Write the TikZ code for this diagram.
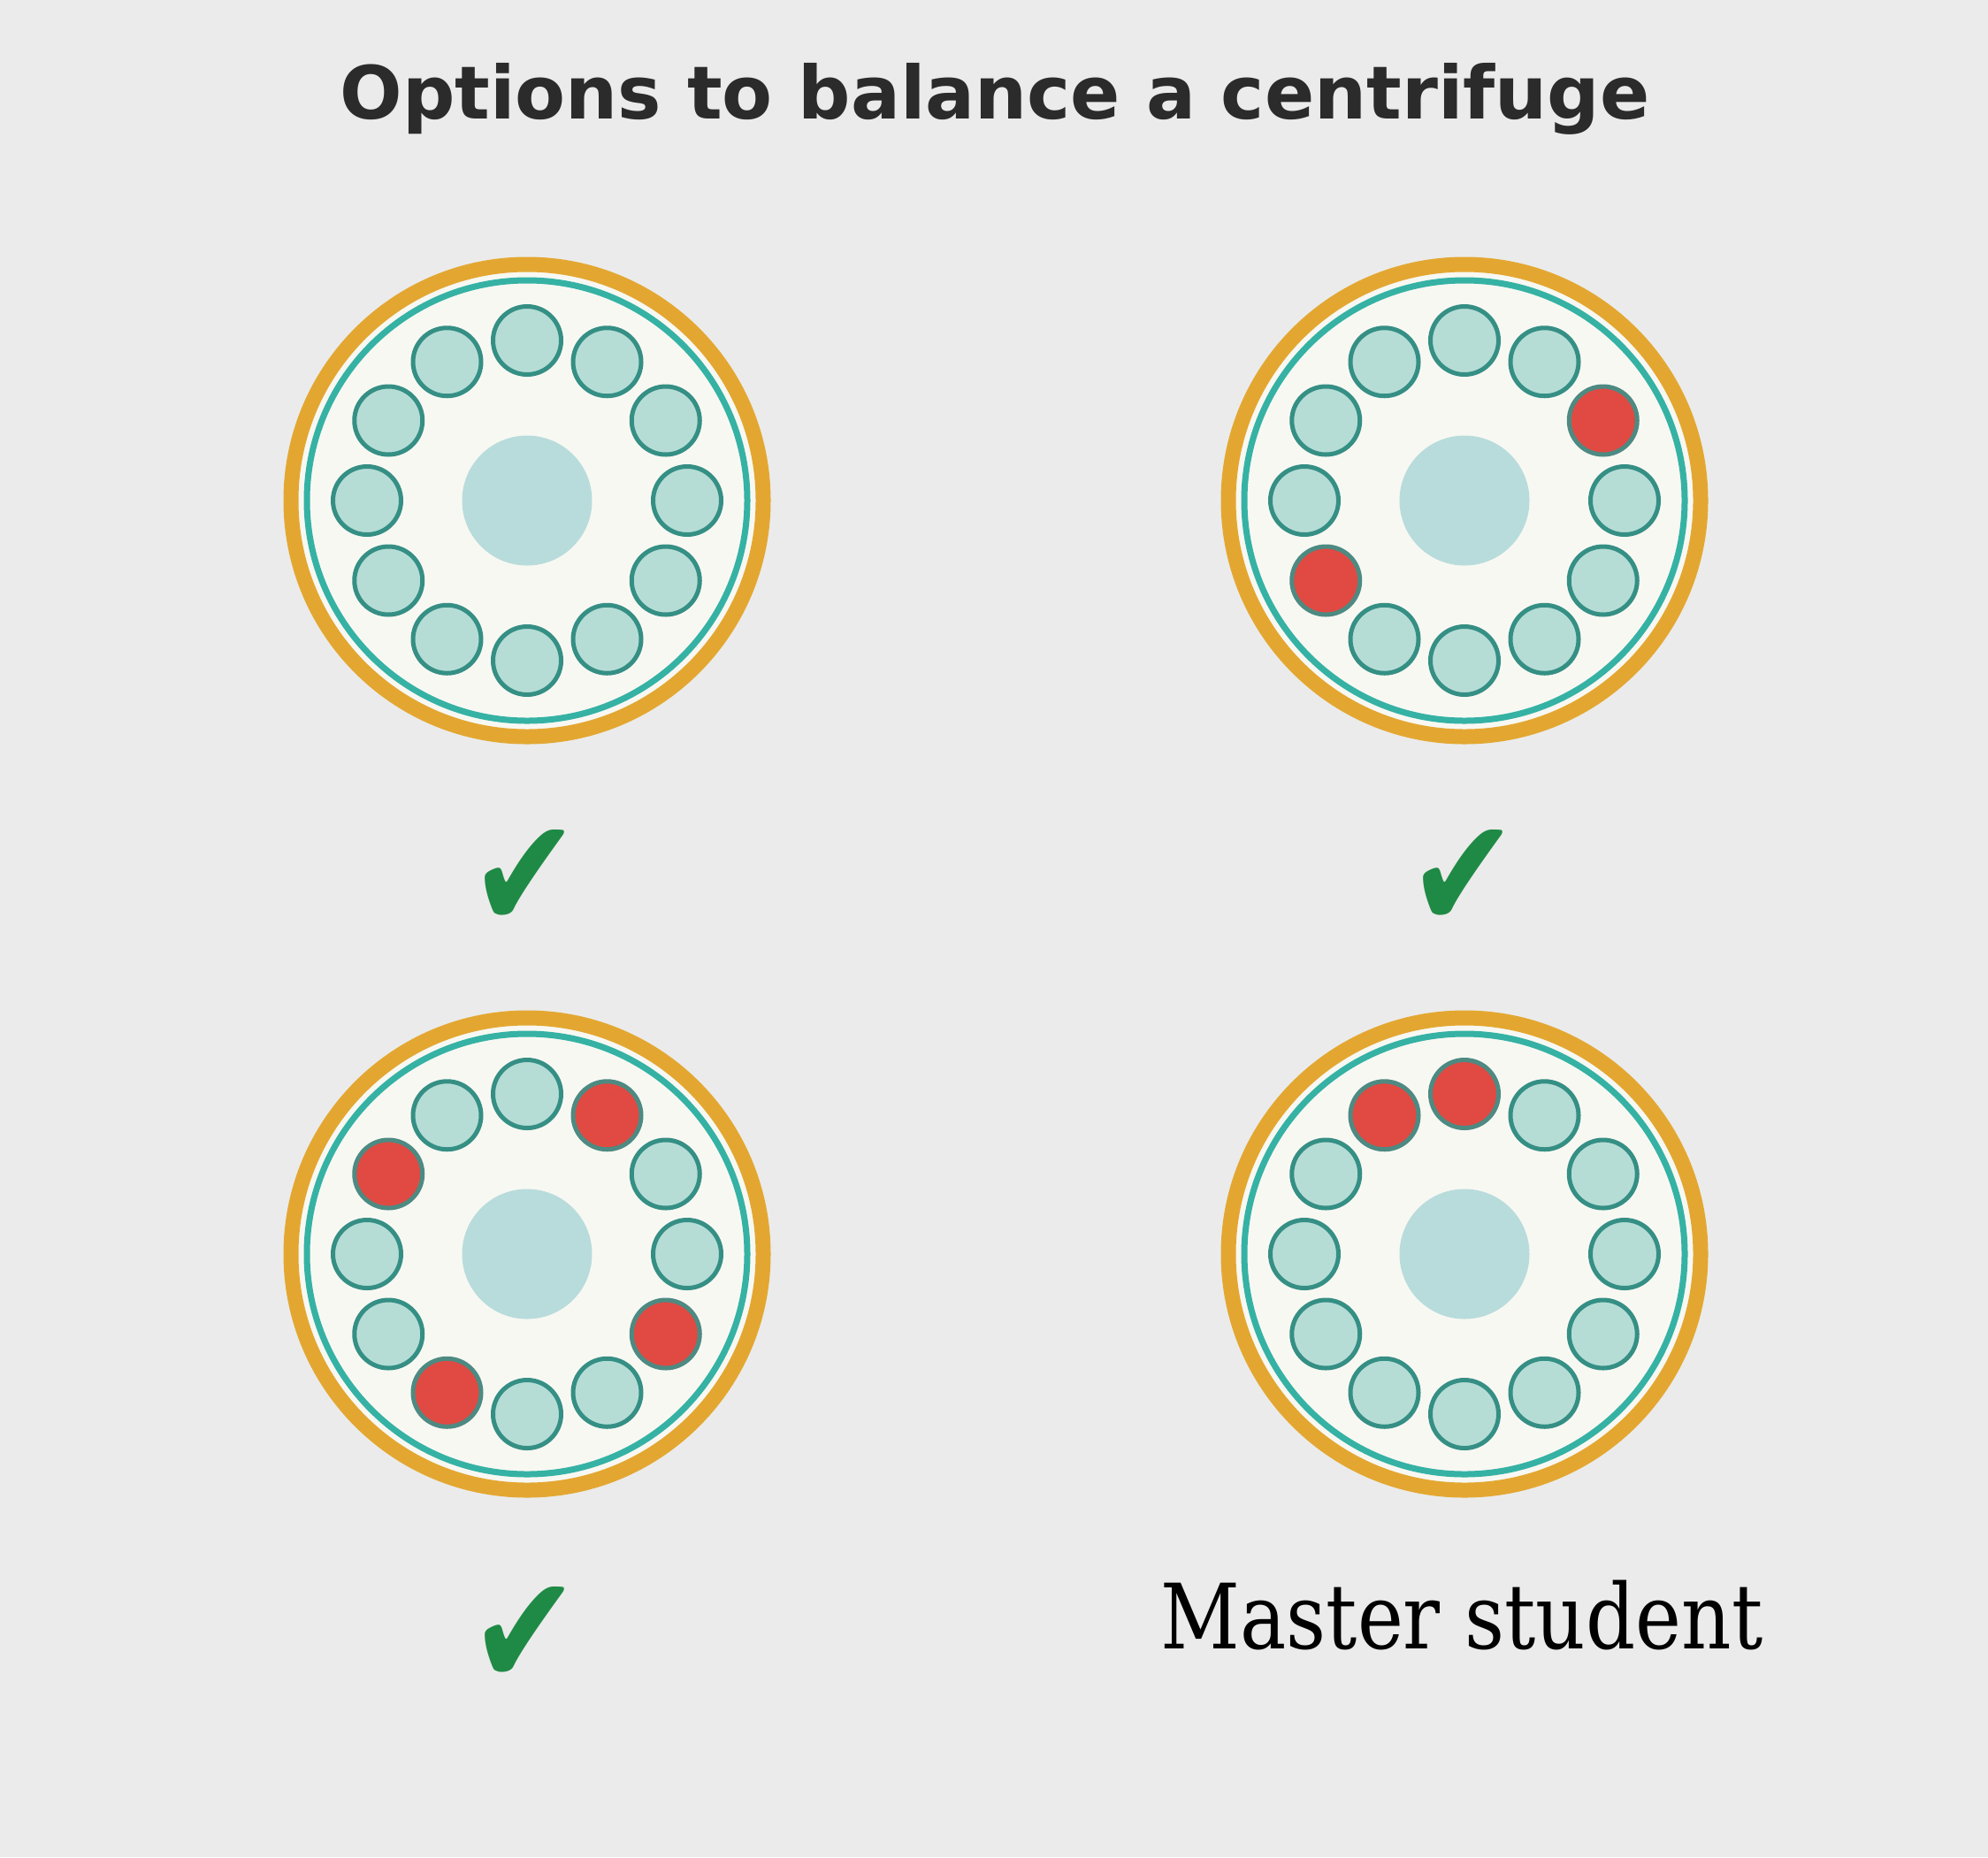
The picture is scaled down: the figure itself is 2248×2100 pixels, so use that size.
\documentclass[tikz,border=0pt]{standalone}
\usepackage{graphicx}
\usepackage{fontspec}
\setmainfont{DejaVu Sans}
\newfontfamily\titlefont{DejaVu Sans}
\newfontfamily\msfont[FakeStretch=0.86]{DejaVu Serif}
\usetikzlibrary{calc}
\definecolor{bgc}{HTML}{EBEBEB}
\definecolor{orangec}{HTML}{E3A731}
\definecolor{tealc}{HTML}{35B2A4}
\definecolor{discc}{HTML}{F8F8F3}
\definecolor{hubc}{HTML}{B8DCDB}
\definecolor{tubec}{HTML}{B5DDD6}
\definecolor{tubedraw}{HTML}{358F84}
\definecolor{redc}{HTML}{E04A42}
\definecolor{reddraw}{HTML}{4D8A82}
\definecolor{checkc}{HTML}{1F8A45}
\definecolor{titlec}{HTML}{2B2B2B}
\tikzset{
  disc/.style={circle, inner sep=0pt, minimum size=267pt, fill=discc, draw=orangec, line width=8.5pt},
  tealring/.style={circle, inner sep=0pt, minimum size=249pt, draw=tealc, line width=3.5pt},
  hub/.style={circle, inner sep=0pt, minimum size=73.5pt, fill=hubc},
  tube/.style={circle, inner sep=0pt, minimum size=38.5pt, fill=tubec, draw=tubedraw, line width=2.5pt},
  redtube/.style={circle, inner sep=0pt, minimum size=38.5pt, fill=redc, draw=reddraw, line width=2.5pt},
  checkmark/.style={inner sep=0pt, text=checkc, font=\fontsize{74}{74}\selectfont},
  titletext/.style={inner sep=0pt, text=titlec, font=\titlefont\bfseries\fontsize{41.5}{48}\selectfont},
  mstext/.style={inner sep=0pt, text=black, font=\msfont\fontsize{51}{60}\selectfont}
}
\newcommand{\rotor}[4]{%
  \node[disc] (#1) at (#2,#3) {};
  \node[tealring] (#1ring) at (#1.center) {};
  \node[hub] (#1hub) at (#1.center) {};
  \foreach \a in {0,30,...,330} {%
    \gdef\tubest{tube}%
    \foreach \r in {#4} {\ifnum\a=\r\relax\gdef\tubest{redtube}\fi}%
    \node[\tubest] (#1t\a) at ($(#1.center)+(\a:90.5pt)$) {};
  }%
}
\begin{document}
\begin{tikzpicture}[x=0.5pt,y=-0.5pt]
\fill[bgc] (0,0) rectangle (2248,2100);
\useasboundingbox (0,0) rectangle (2248,2100);
\node[titletext, anchor=base] (title) at (1125,134) {Options to balance a centrifuge};
\rotor{ra}{596}{566}{999}
\rotor{rb}{1656}{566}{30,210}
\rotor{rc}{596}{1418}{60,150,240,330}
\rotor{rd}{1656}{1418}{90,120}
\node[checkmark] (cka) at (593,994) {\scalebox{1}[1.2]{✔}};
\node[checkmark] (ckb) at (1654,994) {\scalebox{1}[1.2]{✔}};
\node[checkmark] (ckc) at (593,1850) {\scalebox{1}[1.2]{✔}};
\node[mstext, anchor=base] (ms) at (1653,1864) {Master student};
\end{tikzpicture}
\end{document}
